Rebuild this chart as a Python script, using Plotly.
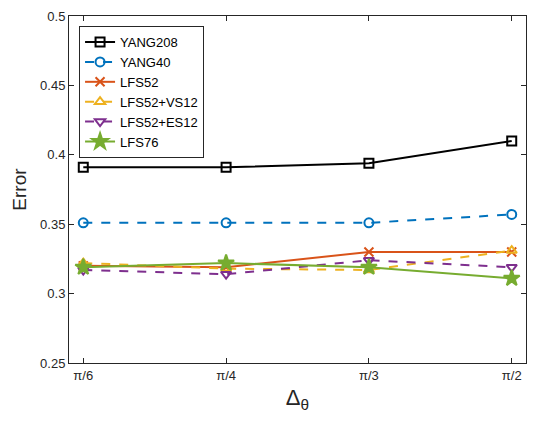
import plotly.graph_objects as go

x_vals = [1, 2, 3, 4]
tick_labels = ["π/6", "π/4", "π/3", "π/2"]

yang208 = [0.391, 0.391, 0.394, 0.410]
yang40 = [0.351, 0.351, 0.351, 0.357]
lfs52 = [0.320, 0.319, 0.330, 0.330]
lfs52_vs12 = [0.322, 0.318, 0.317, 0.331]
lfs52_es12 = [0.317, 0.314, 0.324, 0.319]
lfs76 = [0.319, 0.322, 0.319, 0.311]

series = [
    ("YANG208", yang208, "#000000", "solid", "square-open"),
    ("YANG40", yang40, "#0072BD", "dash", "circle-open"),
    ("LFS52", lfs52, "#D95319", "solid", "x-thin-open"),
    ("LFS52+VS12", lfs52_vs12, "#EDB120", "dash", "triangle-up-open"),
    ("LFS52+ES12", lfs52_es12, "#7E2F8E", "dash", "triangle-down-open"),
    ("LFS76", lfs76, "#77AC30", "solid", "star"),
]

fig = go.Figure()
for name, ys, color, dash, sym in series:
    msize = 9
    if sym == "star":
        msize = 12
    fig.add_trace(go.Scatter(
        x=x_vals, y=ys, name=name, mode="lines+markers",
        line=dict(color=color, width=2, dash=dash),
        marker=dict(symbol=sym, size=msize, color=color,
                    line=dict(color=color, width=2)),
    ))

axis_common = dict(
    showline=True, linecolor="#262626", linewidth=1, mirror="allticks",
    ticks="inside", ticklen=5, tickcolor="#262626", showgrid=False,
    zeroline=False, tickfont=dict(family="Liberation Sans, Arial", size=13, color="#262626"),
)

fig.update_layout(
    width=536, height=423,
    margin=dict(l=69, r=9, t=14, b=60),
    paper_bgcolor="white", plot_bgcolor="white",
    font=dict(family="Liberation Sans, Arial", color="#262626"),
    xaxis=dict(range=[0.9, 4.1], tickvals=x_vals, ticktext=tick_labels,
               title=dict(text="Δ<sub>θ</sub>", font=dict(size=22), standoff=8),
               **axis_common),
    yaxis=dict(range=[0.25, 0.5], tickvals=[0.25, 0.3, 0.35, 0.4, 0.45, 0.5],
               ticktext=["0.25", "0.3", "0.35", "0.4", "0.45", "0.5"],
               title=dict(text="Error", font=dict(size=19), standoff=8),
               **axis_common),
    legend=dict(x=0.022, y=0.971, xanchor="left", yanchor="top",
                bordercolor="#262626", borderwidth=1, bgcolor="white",
                font=dict(family="Liberation Sans, Arial", size=13, color="#000000"),
                tracegroupgap=0, itemwidth=30),
    showlegend=True,
)

fig.write_html("out.html")
